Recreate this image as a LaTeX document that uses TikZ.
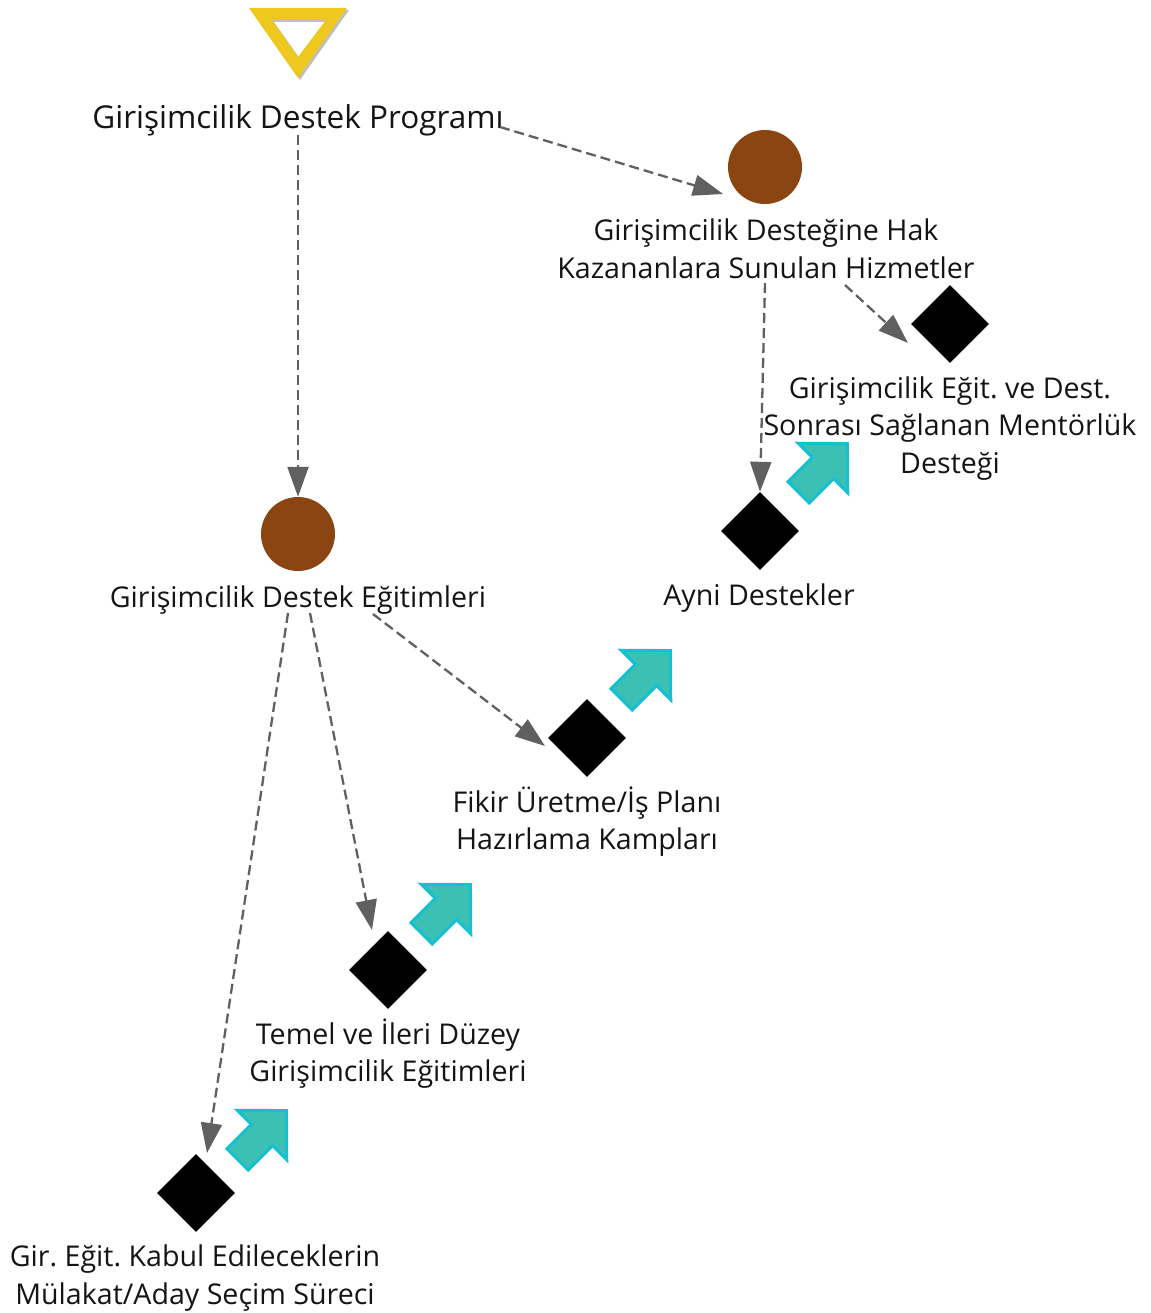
\documentclass[tikz,border=0pt]{standalone}
\usepackage{fontspec}
\setmainfont{Open Sans}
\frenchspacing
\usetikzlibrary{shapes.geometric,arrows.meta,calc}
\definecolor{brn}{RGB}{139,69,19}
\definecolor{gold}{RGB}{238,200,30}
\definecolor{tealf}{RGB}{61,192,180}
\definecolor{cyanl}{RGB}{21,192,208}
\definecolor{linegray}{RGB}{96,96,96}
\tikzset{
  lbl/.style={font=\fontsize{28.6}{37.5}\selectfont, align=center, inner sep=0pt, text=black!92},
  biglbl/.style={lbl, font=\fontsize{31.5}{37.5}\selectfont},
  hub/.style={circle, fill=brn, minimum size=74pt, inner sep=0pt},
  act/.style={diamond, fill=black, minimum width=78pt, minimum height=78pt, inner sep=0pt},
  link/.style={draw=linegray, line width=2.3pt, dash pattern=on 10pt off 5pt,
               -{Triangle[length=30pt,width=21pt]}},
  risearrow/.pic={\draw[draw=cyanl, fill=tealf, line width=3pt, line join=miter]
      (-34.5,-15)--(0,-15)--(0,-35)--(34.5,0)--(0,35)--(0,15)--(-34.5,15)--cycle;}
}
\begin{document}
\begin{tikzpicture}[x=1pt,y=-1pt]
\useasboundingbox (0,0) rectangle (1150,1313);
% start triangle
\fill[black!25, even odd rule] (251,10)--(349,10)--(300,80)--cycle (274,22)--(328,22)--(300,59)--cycle;
\fill[gold, even odd rule] (249,8)--(347,8)--(298,78)--cycle (272,20)--(326,20)--(298,57)--cycle;

% nodes
\node[biglbl] (t0) at (298,121) {\strut Girişimcilik Destek Programı};
\node[hub] (c1) at (765,167) {};
\node[lbl] (t1) at (766,252) {\strut Girişimcilik Desteğine Hak\\\strut Kazananlara Sunulan Hizmetler};
\node[act] (dM) at (950,324) {};
\node[lbl] (tM) at (950,428) {\strut Girişimcilik Eğit. ve Dest.\\\strut Sonrası Sağlanan Mentörlük\\\strut Desteği};
\node[act] (dA) at (760,531) {};
\node[lbl] (tA) at (759,597.5) {\strut Ayni Destekler};
\node[hub] (c2) at (298,534) {};
\node[lbl] (t2) at (298,599.5) {\strut Girişimcilik Destek Eğitimleri};
\node[act] (dF) at (587,738) {};
\node[lbl] (tF) at (587,823.5) {\strut Fikir Üretme/İş Planı\\\strut Hazırlama Kampları};
\node[act] (dT) at (388,970) {};
\node[lbl] (tT) at (388,1055.5) {\strut Temel ve İleri Düzey\\\strut Girişimcilik Eğitimleri};
\node[act] (dG) at (196,1193) {};
\node[lbl] (tG) at (195,1278) {\strut Gir. Eğit. Kabul Edileceklerin\\\strut Mülakat/Aday Seçim Süreci};

% rising arrow icons
\pic[rotate=45] at (823,468) {risearrow};
\pic[rotate=45] at (646,675) {risearrow};
\pic[rotate=45] at (446,909) {risearrow};
\pic[rotate=45] at (262,1135) {risearrow};

% connectors
\draw[link] ($(t0)+(202,6)$) -- ($(c1)+(-42,27)$);
\draw[link] ($(t0)+(0,14)$) -- (c2.north);
\draw[link] ($(t1)+(-1,31)$) -- (dA.north);
\draw[link] ($(t1)+(79,33)$) -- ($(dM)+(-42,19)$);
\draw[link] ($(t2)+(-10,13.5)$) -- ($(dG)+(11,-40)$);
\draw[link] ($(t2)+(12,13.5)$) -- ($(dT)+(-16,-40)$);
\draw[link] ($(t2)+(75,14.5)$) -- ($(dF)+(-42,8)$);
\end{tikzpicture}
\end{document}
